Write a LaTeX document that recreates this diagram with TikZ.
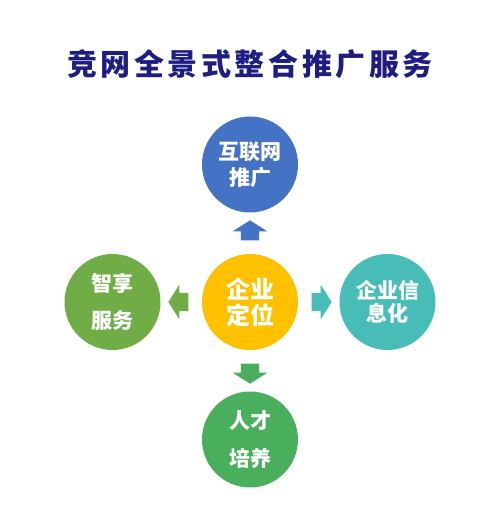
\documentclass[tikz,border=0pt]{standalone}
\usepackage{fontspec}
\newfontfamily\cjk{Noto Sans CJK SC}
\newfontfamily\cjktitle{Noto Sans CJK SC}[LetterSpace=12]
\usetikzlibrary{positioning,calc,shapes.arrows}
\definecolor{titleC}{HTML}{1E1E82}
\definecolor{blueC}{HTML}{4472C4}
\definecolor{goldC}{HTML}{FFC000}
\definecolor{leafC}{HTML}{70AD47}
\definecolor{tealC}{HTML}{48BDB7}
\definecolor{grassC}{HTML}{4AAF5C}
\begin{document}
\begin{tikzpicture}[x=1pt, y=1pt, node distance=137.5pt,
    ball/.style={circle, minimum size=96pt, inner sep=0pt, text=white, align=center,
      font=\cjk\bfseries\fontsize{21}{26}\selectfont},
    blockarr/.style={single arrow, minimum height=20pt, inner xsep=0pt, inner ysep=9pt,
      single arrow head extend=8pt, single arrow tip angle=115, draw=none}]
  \useasboundingbox (0,0) rectangle (500,517);
  \node[font=\cjktitle\bfseries\fontsize{30}{32}\selectfont, text=titleC] (title) at (250,452.5) {竞网全景式整合推广服务};
  % circles
  \node[ball, fill=goldC, font=\cjk\bfseries\fontsize{24}{26}\selectfont] (center) at (250,215) {企业\\定位};
  \node[ball, fill=blueC] (top) [above of=center] {互联网\\推广};
  \node[ball, fill=leafC] (left) [left of=center] {智享\\[11pt]服务};
  \node[ball, fill=tealC, font=\cjk\bfseries\fontsize{21}{23}\selectfont] (right) [right of=center] {企业信\\息化};
  \node[ball, fill=grassC] (bottom) [below of=center] {人才\\[12pt]培养};
  % arrows
  \node[blockarr, fill=blueC, rotate=90] (upArr) at ($(center.north)!0.5!(top.south)$) {};
  \node[blockarr, fill=leafC, rotate=180] (leftArr) at ($(center.west)!0.5!(left.east)$) {};
  \node[blockarr, fill=tealC] (rightArr) at ($(center.east)!0.5!(right.west)$) {};
  \node[blockarr, fill=grassC, rotate=-90] (downArr) at ($(center.south)!0.5!(bottom.north)$) {};
\end{tikzpicture}
\end{document}
